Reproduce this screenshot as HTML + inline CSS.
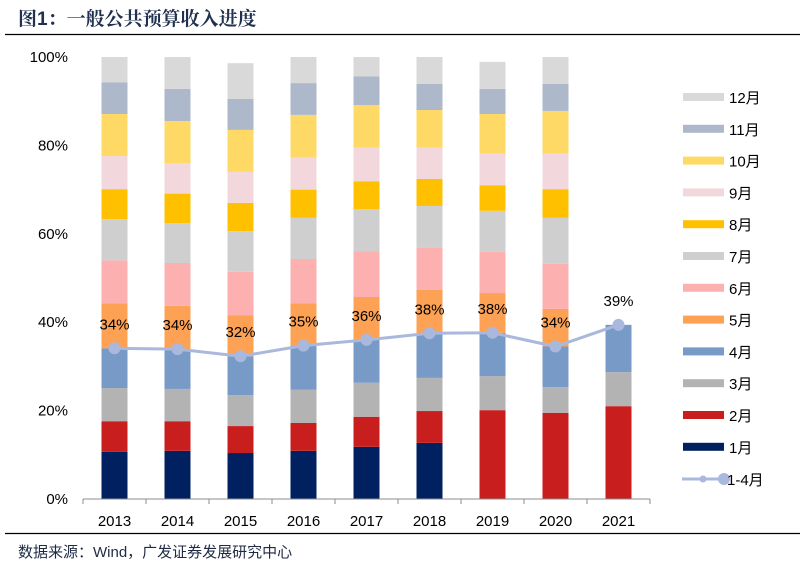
<!DOCTYPE html>
<html><head><meta charset="utf-8"><style>
body{margin:0;background:#fff;}
svg text{font-family:"Liberation Sans","Noto Sans CJK SC",sans-serif;}
</style></head><body>
<svg id="chart" width="800" height="569" xmlns="http://www.w3.org/2000/svg">
<text x="18" y="25" font-size="19" font-weight="bold" fill="#1f3050" style="font-family:'Liberation Sans','Noto Serif CJK SC',serif">图1：一般公共预算收入进度</text>
<line x1="5" y1="34.5" x2="800" y2="34.5" stroke="#000" stroke-width="1.2"/>
<g id="plot"></g>
<line x1="5" y1="533.5" x2="800" y2="533.5" stroke="#000" stroke-width="1.2"/>
<text x="18" y="557" font-size="15" fill="#1f2a44">数据来源：Wind，广发证券发展研究中心</text>
</svg>
<script>
const years=["2013","2014","2015","2016","2017","2018","2019","2020","2021"];
const monthNames=["1月","2月","3月","4月","5月","6月","7月","8月","9月","10月","11月","12月"];
const m1=[10.7,10.9,10.4,10.9,11.8,12.7,0,0,0];
const m2=[6.9,6.7,6.1,6.3,6.8,7.2,20.1,19.5,21.0];
const m3=[7.5,7.3,7.0,7.5,7.7,7.5,7.7,5.8,7.7];
const m4=[9.0,9.0,8.8,10.0,9.7,10.1,9.8,9.2,10.7];
const m5=[10.2,9.8,9.3,9.6,9.7,9.8,9.0,8.5,0];
const m6=[9.7,9.7,9.8,10.0,10.3,9.5,9.3,10.2,0];
const m7=[9.3,9.0,9.2,9.3,9.6,9.5,9.3,10.4,0];
const m8=[6.8,6.7,6.4,6.4,6.3,6.1,5.8,6.5,0];
const m9=[7.5,6.9,7.0,7.2,7.6,7.1,7.1,8.0,0];
const m10=[9.5,9.5,9.5,9.7,9.6,8.5,9.0,9.7,0];
const m11=[7.2,7.3,7.0,7.2,6.5,5.9,5.7,6.1,0];
const m12=[5.7,7.2,8.1,5.9,4.4,6.1,6.1,6.1,0];
const progress=[34.1,33.9,32.3,34.7,36.0,37.5,37.6,34.5,39.4];
const progressLabels=["34%","34%","32%","35%","36%","38%","38%","34%","39%"];
const yTicks=[0,20,40,60,80,100];

const series=[m1,m2,m3,m4,m5,m6,m7,m8,m9,m10,m11,m12];
const colors=["#002060","#c81e1e","#b3b3b3","#779ac7","#fda154","#fdb0b0","#d0cfd0","#ffc000","#f2d8dc","#ffd966","#adb9ca","#d9d9d9"];
const NS="http://www.w3.org/2000/svg";
const plot=document.getElementById('plot');
const x0=83,band=63,base=499,top100=57,barW=26;
const xC=i=>x0+band*(i+0.5);
const yS=v=>base-(base-top100)*v/100;
function mk(tag,attrs,parent){const e=document.createElementNS(NS,tag);for(const k in attrs)e.setAttribute(k,attrs[k]);(parent||plot).appendChild(e);return e;}

yTicks.forEach(t=>{const tx=mk('text',{x:68,y:yS(t)+5,'font-size':15,'text-anchor':'end',fill:'#000'});tx.textContent=t+'%';

});

years.forEach((yr,i)=>{let cum=0;
 series.forEach((s,k)=>{const v=s[i];if(v>0){const r=mk('rect',{x:xC(i)-barW/2,y:yS(cum+v),width:barW,height:yS(cum)-yS(cum+v),fill:colors[k]});
 
 }cum+=v;});
 const tl=mk('text',{x:xC(i),y:526,'font-size':15,'text-anchor':'middle',fill:'#000'});tl.textContent=yr;
 
 
});
const ax=mk('line',{x1:x0,y1:base,x2:x0+band*years.length,y2:base,stroke:'#8c8c8c','stroke-width':1});


for(let i=0;i<=years.length;i++){const tk=mk('line',{x1:x0+band*i,y1:base,x2:x0+band*i,y2:base+5,stroke:'#8c8c8c'});

}

const pl=mk('polyline',{points:progress.map((v,i)=>xC(i)+','+yS(v)).join(' '),fill:'none',stroke:'#a9b8dc','stroke-width':3});


progress.forEach((v,i)=>{const c=mk('circle',{cx:xC(i),cy:yS(v),r:6,fill:'#a9b8dc'});


const t=mk('text',{x:xC(i),y:yS(v)-19,'font-size':15,'text-anchor':'middle',fill:'#000'});t.textContent=progressLabels[i];

});

for(let k=11;k>=0;k--){const yy=97+(11-k)*31.8;
 const sw=mk('rect',{x:683,y:yy-4,width:41,height:8,fill:colors[k]});
 
 
 const lt=mk('text',{x:729,y:yy+6,'font-size':15,fill:'#000'});lt.textContent=monthNames[k];
 
 }
const ly=479;
const ll=mk('line',{x1:682,y1:ly,x2:724,y2:ly,stroke:'#a9b8dc','stroke-width':3});


mk('circle',{cx:703,cy:ly,r:3.5,fill:'#a9b8dc'});
mk('circle',{cx:724,cy:ly,r:6,fill:'#a9b8dc'});
const lt2=mk('text',{x:727,y:ly+6,'font-size':15,fill:'#000'});lt2.textContent='1-4月';


</script>
</body></html>
